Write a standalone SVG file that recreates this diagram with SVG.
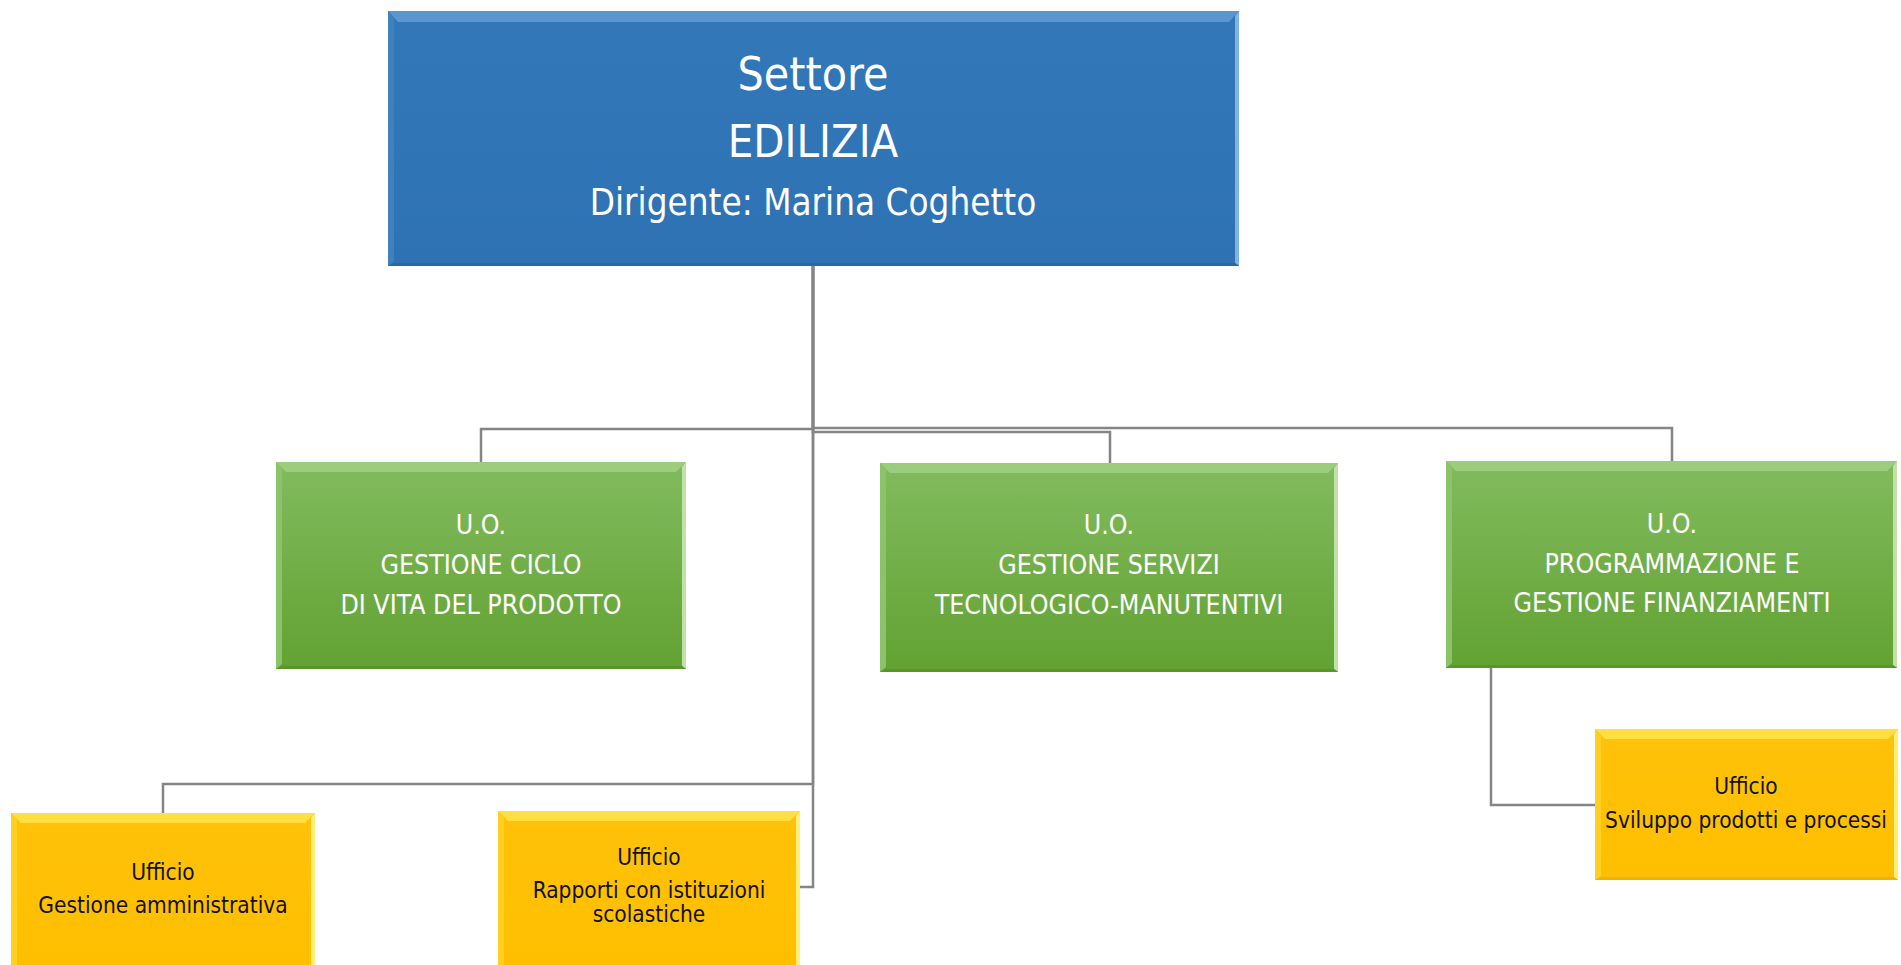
<svg xmlns="http://www.w3.org/2000/svg" width="1901" height="965" viewBox="0 0 1901 965">
<defs>
<linearGradient id="gGreen" x1="0" y1="0" x2="0" y2="1">
<stop offset="0" stop-color="#82bb5e"/>
<stop offset="1" stop-color="#62a232"/>
</linearGradient>
<linearGradient id="gBlue" x1="0" y1="0" x2="0" y2="1">
<stop offset="0" stop-color="#3278b8"/>
<stop offset="1" stop-color="#2e72b3"/>
</linearGradient>
<linearGradient id="gYellow" x1="0" y1="0" x2="0" y2="1">
<stop offset="0" stop-color="#ffc20a"/>
<stop offset="1" stop-color="#ffbf00"/>
</linearGradient>
</defs>
<style>
.conn{fill:none;stroke:#858585;stroke-width:2.5}
.tw{font-family:"DejaVu Sans Condensed","DejaVu Sans",sans-serif;fill:#ffffff;text-anchor:middle}
.tb{font-family:"DejaVu Sans Condensed","DejaVu Sans",sans-serif;fill:#111111;text-anchor:middle}
.bt-blue{fill:#5a97d0}
.bl-blue{fill:#3f80bd}
.br-blue{fill:#7fb3e2}
.bb-blue{fill:#2a68a2}
.bt-green{fill:#9ccd7c}
.bl-green{fill:#8bc368}
.br-green{fill:#c0e2a8}
.bb-green{fill:#5a952c}
.bt-yel{fill:#ffe040}
.bl-yel{fill:#ffd020}
.br-yel{fill:#fff07a}
.bb-yel{fill:#f0b400}
</style>

<g id="connectors">
<path class="conn" d="M813 266 V429 H481 V462"/>
<path class="conn" d="M813 266 V432 H1110 V463"/>
<path class="conn" d="M813 266 V428 H1672 V461"/>
<path class="conn" d="M813 266 V784 H163 V813"/>
<path class="conn" d="M813 266 V887 H800"/>
<path class="conn" d="M1491 668 V805 H1595"/>
</g>

<g id="node-settore">
<rect x="388" y="11" width="851" height="255" fill="url(#gBlue)"/>
<polygon class="bt-blue" points="388,11 1239,11 1229,22 398,22"/>
<polygon class="bl-blue" points="388,11 394,18 394,261 388,266"/>
<polygon class="br-blue" points="1239,11 1235,16 1235,263 1239,266"/>
<polygon class="bb-blue" points="388,266 1239,266 1235,263 394,263"/>
<text class="tw" x="813" y="90" font-size="46">Settore</text>
<text class="tw" x="813" y="157" font-size="45">EDILIZIA</text>
<text class="tw" x="813" y="215" font-size="36.5">Dirigente: Marina Coghetto</text>
</g>

<g id="node-uo1">
<rect x="276" y="462" width="410" height="207" fill="url(#gGreen)"/>
<polygon class="bt-green" points="276,462 686,462 676,472 286,472"/>
<polygon class="bl-green" points="276,462 282,469 282,664 276,669"/>
<polygon class="br-green" points="686,462 682,467 682,666 686,669"/>
<polygon class="bb-green" points="276,669 686,669 682,666 282,666"/>
<text class="tw" x="481" y="534" font-size="26.5">U.O.</text>
<text class="tw" x="481" y="574" font-size="26.5">GESTIONE CICLO</text>
<text class="tw" x="481" y="614" font-size="26.5">DI VITA DEL PRODOTTO</text>
</g>

<g id="node-uo2">
<rect x="880" y="463" width="458" height="209" fill="url(#gGreen)"/>
<polygon class="bt-green" points="880,463 1338,463 1328,473 890,473"/>
<polygon class="bl-green" points="880,463 886,470 886,667 880,672"/>
<polygon class="br-green" points="1338,463 1334,468 1334,669 1338,672"/>
<polygon class="bb-green" points="880,672 1338,672 1334,669 886,669"/>
<text class="tw" x="1109" y="534" font-size="26.5">U.O.</text>
<text class="tw" x="1109" y="574" font-size="26.5">GESTIONE SERVIZI</text>
<text class="tw" x="1109" y="614" font-size="26.5">TECNOLOGICO-MANUTENTIVI</text>
</g>

<g id="node-uo3">
<rect x="1446" y="461" width="451" height="207" fill="url(#gGreen)"/>
<polygon class="bt-green" points="1446,461 1897,461 1887,471 1456,471"/>
<polygon class="bl-green" points="1446,461 1452,468 1452,663 1446,668"/>
<polygon class="br-green" points="1897,461 1893,466 1893,665 1897,668"/>
<polygon class="bb-green" points="1446,668 1897,668 1893,665 1452,665"/>
<text class="tw" x="1672" y="533" font-size="26.5">U.O.</text>
<text class="tw" x="1672" y="573" font-size="26.5">PROGRAMMAZIONE E</text>
<text class="tw" x="1672" y="612" font-size="26.5">GESTIONE FINANZIAMENTI</text>
</g>

<g id="node-uff1">
<rect x="11" y="813" width="304" height="160" fill="url(#gYellow)"/>
<polygon class="bt-yel" points="11,813 315,813 305,823 21,823"/>
<polygon class="bl-yel" points="11,813 17,820 17,973 11,973"/>
<polygon class="br-yel" points="315,813 311,818 311,973 315,973"/>
<text class="tb" x="163" y="880" font-size="22.5">Ufficio</text>
<text class="tb" x="163" y="913" font-size="22.5">Gestione amministrativa</text>
</g>

<g id="node-uff2">
<rect x="498" y="811" width="302" height="162" fill="url(#gYellow)"/>
<polygon class="bt-yel" points="498,811 800,811 790,821 508,821"/>
<polygon class="bl-yel" points="498,811 504,818 504,973 498,973"/>
<polygon class="br-yel" points="800,811 796,816 796,973 800,973"/>
<text class="tb" x="649" y="865" font-size="22.5">Ufficio</text>
<text class="tb" x="649" y="898" font-size="22.5">Rapporti con istituzioni</text>
<text class="tb" x="649" y="922" font-size="22.5">scolastiche</text>
</g>

<g id="node-uff3">
<rect x="1595" y="729" width="303" height="151" fill="url(#gYellow)"/>
<polygon class="bt-yel" points="1595,729 1898,729 1888,739 1605,739"/>
<polygon class="bl-yel" points="1595,729 1601,736 1601,876 1595,880"/>
<polygon class="br-yel" points="1898,729 1894,734 1894,877 1898,880"/>
<polygon class="bb-yel" points="1595,880 1898,880 1894,877 1601,877"/>
<text class="tb" x="1746" y="794" font-size="22.5">Ufficio</text>
<text class="tb" x="1746" y="828" font-size="22.5">Sviluppo prodotti e processi</text>
</g>
</svg>
